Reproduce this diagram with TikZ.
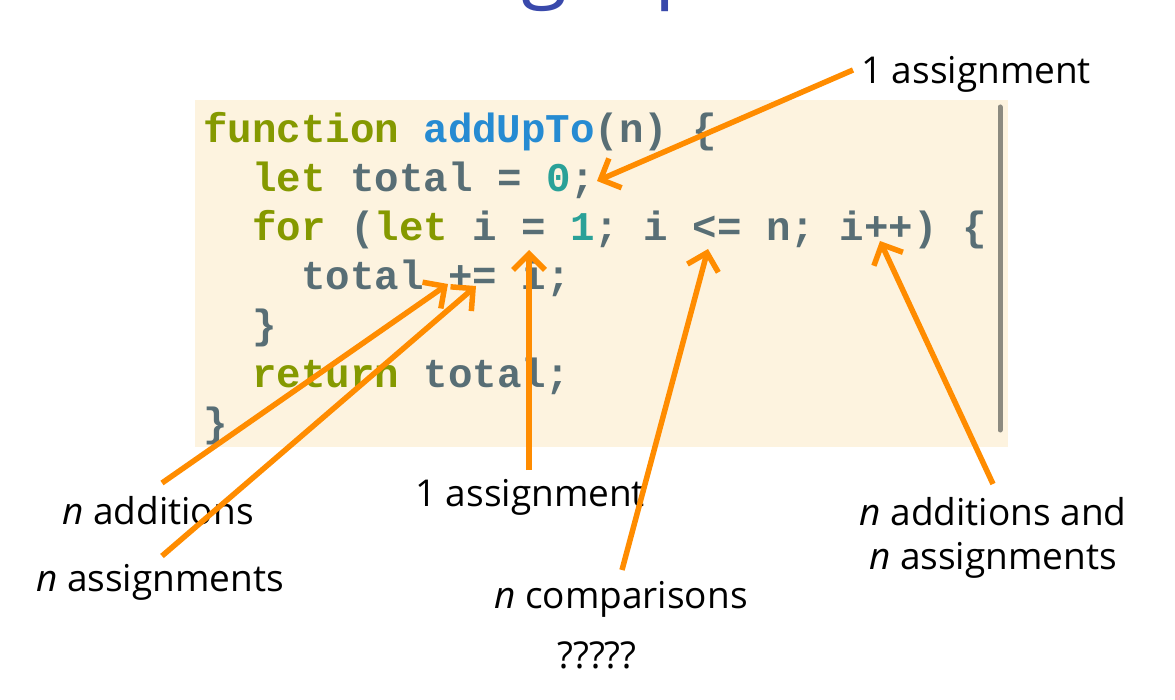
\documentclass[tikz,border=0pt]{standalone}
\usepackage{fontspec}
\setmainfont{Open Sans}
\newfontfamily\codefont{Liberation Mono}
\usetikzlibrary{arrows.meta}
\definecolor{codebg}{HTML}{FDF3DF}
\definecolor{kwcol}{HTML}{859900}
\definecolor{fncol}{HTML}{268BD2}
\definecolor{numcol}{HTML}{2AA198}
\definecolor{basecol}{HTML}{586E75}
\definecolor{barcol}{HTML}{8C8A80}
\definecolor{arrcol}{HTML}{FF8C00}
\definecolor{titlecol}{HTML}{3949AB}
\newcommand{\kw}[1]{\textcolor{kwcol}{#1}}
\newcommand{\fn}[1]{\textcolor{fncol}{#1}}
\newcommand{\nm}[1]{\textcolor{numcol}{#1}}
\begin{document}
\begin{tikzpicture}[x=1pt,y=-1pt,
  codeline/.style={anchor=base west, inner sep=0pt, text=basecol,
    font=\codefont\bfseries\fontsize{40.8}{49}\selectfont},
  lbl/.style={anchor=base, inner sep=0pt, font=\fontsize{37}{44}\selectfont},
  arr/.style={draw=arrcol, line width=5.5pt, -{Straight Barb[length=16pt,width=32pt]}}]
\useasboundingbox (0,0) rectangle (1175,700);
% title (cut off at top)
\begin{scope}
  \clip (0,0) rectangle (1175,100);
  \node[anchor=base, inner sep=0pt, text=titlecol, font=\fontsize{84}{100}\selectfont] (title) at (619,-8) {Counting Operations};
\end{scope}
% code box
\fill[codebg] (195,100) rectangle (1008,447);
\draw[barcol, line width=5pt, line cap=round] (1000,107) -- (1000,430);
\node[codeline] (l1) at (203,142.5) {\kw{function} \fn{addUpTo}(n) \{};
\node[codeline] (l2) at (252,191.5) {\kw{let} total = \nm{0};};
\node[codeline] (l3) at (252,240.5) {\kw{for} (\kw{let} i = \nm{1}; i <= n; i++) \{};
\node[codeline] (l4) at (301,289.5) {total += i;};
\node[codeline] (l5) at (252,338.5) {\}};
\node[codeline] (l6) at (252,387.5) {\kw{return} total;};
\node[codeline] (l7) at (203,436.5) {\}};
% labels
\node[lbl] (a1) at (976,84) {1 assignment};
\node[lbl] (a2) at (158,524) {\textit{n} additions};
\node[lbl] (a3) at (160,591) {\textit{n} assignments};
\node[lbl] (a4) at (530,506) {1 assignment};
\node[lbl] (a5) at (621,608) {\textit{n} comparisons};
\node[lbl] (a6) at (597,668) {?????};
\node[lbl] (a7) at (993,525) {\textit{n} additions and};
\node[lbl] (a8) at (993,569) {\textit{n} assignments};
% arrow end points
\coordinate (s1) at (853,70);  \coordinate (t1) at (597,181);
\coordinate (s2) at (162,483); \coordinate (t2) at (448,284);
\coordinate (s3) at (162,556); \coordinate (t3) at (476,286);
\coordinate (s4) at (529,470); \coordinate (t4) at (529,250);
\coordinate (s5) at (622,570); \coordinate (t5) at (708,249);
\coordinate (s6) at (993,484); \coordinate (t6) at (880,241);
\draw[arr] (s1) -- (t1);
\draw[arr] (s2) -- (t2);
\draw[arr] (s3) -- (t3);
\draw[arr] (s4) -- (t4);
\draw[arr] (s5) -- (t5);
\draw[arr] (s6) -- (t6);
\end{tikzpicture}
\end{document}
